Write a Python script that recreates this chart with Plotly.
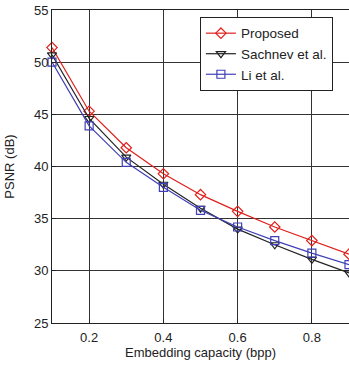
import plotly.graph_objects as go

x = [0.1, 0.2, 0.3, 0.4, 0.5, 0.6, 0.7, 0.8, 0.9]
proposed = [51.4, 45.3, 41.8, 39.3, 37.3, 35.7, 34.2, 32.9, 31.6]
sachnev = [50.7, 44.6, 40.9, 38.3, 36.0, 34.0, 32.5, 31.1, 29.8]
li = [50.0, 43.9, 40.4, 38.0, 35.8, 34.2, 32.9, 31.7, 30.6]

series = [
    ("Proposed", proposed, "#e0201c", "diamond-open"),
    ("Sachnev et al.", sachnev, "#222222", "triangle-down-open"),
    ("Li et al.", li, "#4040b8", "square-open"),
]

fig = go.Figure()
for name, ys, col, sym in series:
    fig.add_trace(go.Scatter(
        x=x, y=ys, name=name, mode="lines+markers",
        line=dict(color=col, width=1.2),
        marker=dict(symbol=sym, size=8, color=col, line=dict(width=1.2, color=col)),
        cliponaxis=False,
    ))

ff = "Liberation Sans, Arial, sans-serif"
fig.update_layout(
    width=349, height=365,
    margin=dict(l=52, r=0, t=10, b=42, autoexpand=False),
    plot_bgcolor="white", paper_bgcolor="white",
    font=dict(family=ff, size=13, color="#222"),
    showlegend=True,
    legend=dict(x=0.498, y=0.978, xanchor="left", yanchor="top",
                bordercolor="#222", borderwidth=1, bgcolor="white",
                font=dict(family=ff, size=13.5, color="#222"),
                tracegroupgap=0, entrywidth=98, entrywidthmode="pixels"),
)
fig.update_xaxes(
    range=[0.1, 0.9], tickvals=[0.2, 0.4, 0.6, 0.8], ticktext=["0.2", "0.4", "0.6", "0.8"],
    showgrid=True, gridcolor="#333", gridwidth=1,
    showline=True, linecolor="#222", linewidth=1, mirror=True,
    ticks="inside", ticklen=4, tickcolor="#222",
    ticklabelstandoff=2,
    title=dict(text="Embedding capacity (bpp)", standoff=3, font=dict(size=13)),
    zeroline=False, automargin=False,
)
fig.update_yaxes(
    range=[25, 55], tickvals=[25, 30, 35, 40, 45, 50, 55],
    showgrid=True, gridcolor="#333", gridwidth=1,
    showline=True, linecolor="#222", linewidth=1, mirror=True,
    ticks="inside", ticklen=4, tickcolor="#222",
    title=dict(text="PSNR (dB)", standoff=16, font=dict(size=13)),
    zeroline=False, automargin=False,
)
fig.write_html("out.html", config={"displayModeBar": False},
               post_script="document.body.style.margin='0';document.body.style.overflow='hidden';")
